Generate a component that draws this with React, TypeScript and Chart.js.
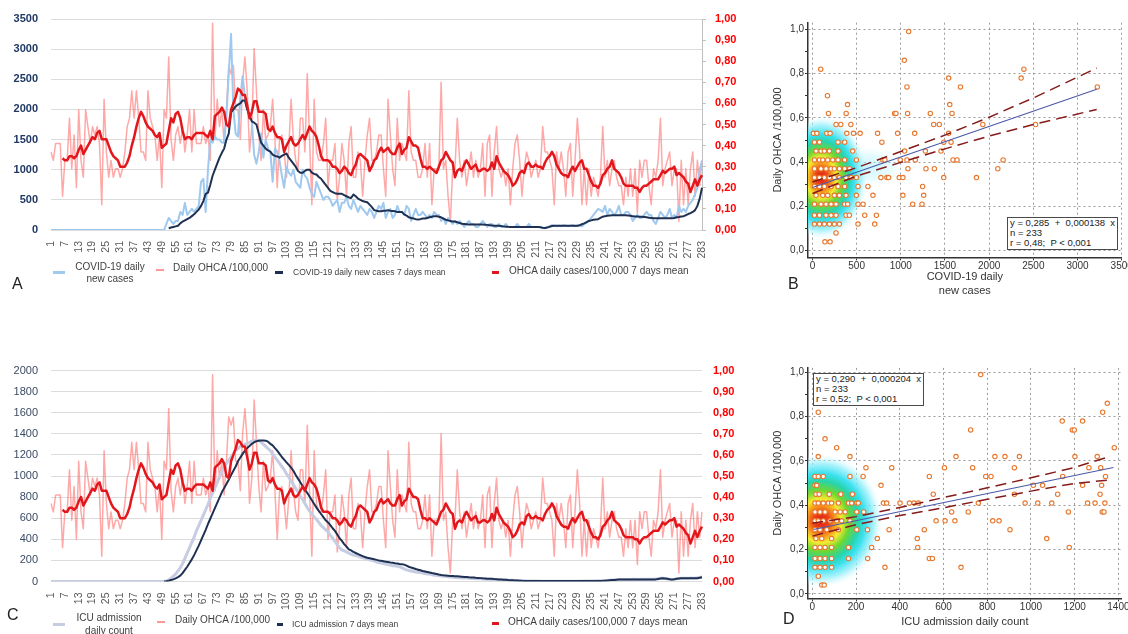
import React, { useEffect, useRef } from "react";
import { Chart, registerables } from "chart.js";

Chart.register(...registerables);

const FONT = '"Liberation Sans", Arial, Helvetica, sans-serif';
Chart.defaults.font.family = FONT;

// ---------- categories ----------
const DAYS: string[] = Array.from({ length: 283 }, (_, i) => String(i + 1));

// ---------- daily OHCA per 100,000 (days 1..283) ----------
const OHCA_DAILY = [
  .37,.33,.41,.41,.41,.16,.33,.33,.53,.29,
  .45,.20,.57,.33,.25,.57,.49,.41,.49,.45,
  .49,.41,.12,.62,.37,.25,.33,.25,.29,.29,
  .25,.29,.37,.49,.53,.66,.53,.66,.53,.37,
  .37,.33,.66,.53,.49,.45,.33,.45,.20,.57,
  .53,.82,.43,.33,.45,.49,.41,.49,.37,.45,
  .57,.37,.57,.41,.41,.41,.49,.41,.45,.33,
  .98,.43,.62,.49,.57,.41,.57,.78,.74,.78,
  .57,.57,.43,.70,.82,.66,.37,.49,.86,.66,
  .45,.33,.57,.43,.45,.49,.62,.43,.20,.43,
  .45,.37,.25,.39,.62,.43,.33,.29,.53,.53,
  .37,.74,.43,.12,.62,.37,.33,.33,.41,.53,
  .20,.33,.33,.41,.14,.25,.41,.33,.16,.41,
  .49,.25,.25,.37,.33,.16,.33,.45,.53,.33,
  .33,.37,.45,.45,.29,.16,.62,.45,.29,.21,
  .53,.33,.41,.37,.33,.66,.37,.33,.33,.25,
  .25,.29,.41,.25,.41,.12,.29,.29,.29,.70,
  .29,.33,.16,.04,.29,.29,.53,.33,.25,.33,
  .21,.29,.37,.25,.33,.25,.29,.41,.16,.41,
  .45,.16,.37,.49,.29,.25,.29,.21,.29,.12,
  .29,.41,.45,.33,.16,.29,.37,.33,.25,.29,
  .33,.25,.29,.49,.37,.37,.33,.29,.12,.37,
  .29,.37,.29,.16,.37,.41,.16,.33,.53,.37,
  .12,.29,.12,.29,.16,.25,.21,.16,.25,.49,
  .25,.33,.21,.29,.33,.25,.21,.21,.12,.25,
  .16,.29,.16,.29,.08,.33,.25,.33,.33,.21,
  .12,.29,.25,.33,.53,.21,.29,.33,.37,.21,
  .29,.29,.04,.33,.12,.29,.12,.29,.37,.16,
  .33,.21,.33,
];

// ---------- OHCA 7-day mean (days 1..283) ----------
const OHCA_MEAN = [
  null,null,null,null,null,.34,.33,.33,.35,.35,
  .34,.35,.38,.40,.36,.38,.40,.42,.44,.43,
  .46,.47,.43,.43,.43,.40,.37,.35,.34,.33,
  .30,.30,.30,.32,.35,.40,.44,.49,.53,.56,
  .54,.51,.49,.48,.47,.45,.44,.46,.39,.40,
  .41,.47,.53,.51,.55,.56,.53,.47,.43,.44,
  .44,.43,.45,.46,.46,.46,.46,.45,.44,.47,
  .43,.54,.55,.56,.58,.56,.50,.49,.57,.60,
  .63,.67,.66,.64,.64,.59,.53,.56,.61,.61,
  .56,.56,.56,.55,.48,.47,.49,.46,.44,.44,
  .43,.37,.40,.42,.44,.41,.40,.41,.43,.45,
  .43,.46,.49,.47,.46,.44,.40,.35,.33,.33,
  .33,.32,.30,.30,.29,.27,.28,.30,.29,.27,
  .26,.29,.31,.35,.36,.35,.34,.33,.28,.30,
  .33,.34,.37,.39,.37,.38,.39,.37,.36,.36,
  .39,.41,.36,.38,.39,.44,.42,.40,.40,.39,
  .34,.30,.30,.29,.30,.29,.28,.27,.30,.33,
  .34,.37,.35,.33,.32,.25,.28,.29,.28,.31,
  .33,.31,.29,.30,.31,.28,.28,.29,.29,.28,
  .29,.32,.29,.35,.32,.30,.28,.27,.26,.24,
  .21,.22,.24,.27,.28,.27,.31,.32,.30,.30,
  .31,.30,.30,.29,.32,.34,.35,.37,.35,.31,
  .29,.27,.26,.26,.25,.28,.30,.28,.30,.32,
  .33,.29,.29,.26,.23,.21,.21,.20,.22,.26,
  .27,.29,.30,.33,.29,.28,.27,.25,.22,.21,
  .21,.21,.21,.20,.20,.18,.20,.21,.21,.22,
  .23,.24,.24,.24,.26,.28,.27,.28,.29,.29,
  .30,.26,.27,.26,.25,.23,.22,.18,.21,.24,
  .21,.24,.26,
];

// ---------- COVID-19 daily new cases ----------
const COVID_DAILY = [
  0,0,0,0,0,0,0,0,0,0, 0,0,0,0,0,0,0,0,0,0,
  0,0,0,0,0,0,0,0,0,0, 0,0,0,0,0,0,0,0,0,0,
  0,0,0,0,0,0,0,0,0,0,
  100,200,150,100,150,150,300,250,450,250,
  300,350,300,350,400,800,850,300,1000,1500,
  1450,1550,1500,1500,1450,1450,1900,2600,3250,2000,
  1600,1550,2200,2550,2200,2000,1900,1800,1250,1100,
  1300,1600,1200,1500,1350,1300,800,1350,1300,1150,
  900,700,1050,950,900,1000,800,750,700,1000,
  900,850,700,600,550,800,700,600,500,550,
  550,500,400,450,500,300,450,450,550,400,
  350,500,400,300,400,350,300,250,350,300,
  200,300,400,350,450,200,300,350,200,250,
  400,300,300,250,400,350,150,250,350,250,
  250,300,250,200,250,200,300,250,250,150,
  200,100,200,150,100,150,100,150,100,50,
  100,150,100,100,50,50,100,150,100,50,
  100,100,50,50,100,50,50,100,50,50,
  50,50,100,50,50,50,50,100,50,50,
  50,50,50,30,30,50,60,80,70,60,
  70,60,80,70,60,70,80,60,70,70,
  60,100,120,150,200,250,300,350,330,300,
  400,250,350,300,250,300,400,250,250,300,
  300,250,150,200,250,200,200,250,300,250,
  250,150,100,200,300,250,200,250,350,200,
  250,200,400,300,350,300,400,450,500,600,
  700,1000,1150,
];

// ---------- COVID-19 daily new cases, 7-day mean ----------
const COVID_MEAN = [
  null,null,null,null,null,null,null,null,null,null,
  null,null,null,null,null,null,null,null,null,null,
  null,null,null,null,null,null,null,null,null,null,
  null,null,null,null,null,null,null,null,null,null,
  null,null,null,null,null,null,null,null,null,null,
  null,30,40,50,60,70,110,140,160,180,
  200,230,260,300,340,400,480,600,620,750,
  900,1000,1100,1200,1280,1350,1500,1600,1950,2000,
  2050,2080,2100,2150,2150,2000,1900,1800,1780,1750,
  1600,1450,1400,1350,1320,1300,1250,1230,1220,1200,
  1230,1250,1270,1200,1150,1100,1050,980,950,950,
  980,1000,1000,950,930,920,880,850,800,750,
  700,650,630,610,600,600,600,580,560,540,
  530,590,560,520,500,480,470,460,420,380,
  330,320,310,310,320,320,330,320,315,310,
  300,300,300,260,240,210,200,190,180,175,
  180,190,190,200,210,220,230,230,220,210,
  190,170,160,150,140,140,130,115,105,100,
  95,90,90,90,90,90,90,90,88,85,
  80,75,70,70,70,65,60,55,52,50,
  50,50,50,50,50,50,50,50,50,50,
  50,50,45,38,35,40,55,65,70,70,
  70,70,70,70,70,70,70,70,70,80,
  95,110,130,150,160,170,175,180,200,220,
  230,235,240,245,245,245,245,245,245,245,
  240,235,230,225,225,220,220,215,210,205,
  200,195,195,195,195,195,195,195,195,195,
  200,210,215,225,230,245,265,280,300,330,
  400,520,700,
];

// ---------- ICU admission daily count ----------
const ICU_DAILY = [
  0,0,0,0,0,0,0,0,0,0, 0,0,0,0,0,0,0,0,0,0,
  0,0,0,0,0,0,0,0,0,0, 0,0,0,0,0,0,0,0,0,0,
  0,0,0,0,0,0,0,0,0,0,
  5,15,30,50,70,100,130,170,220,270,
  320,370,420,480,530,580,630,680,730,790,
  840,890,940,990,1040,1080,1120,1150,1180,1210,
  1240,1260,1280,1290,1300,1310,1320,1330,1335,1340,
  1340,1320,1300,1280,1260,1240,1210,1180,1150,1120,
  1090,1060,1020,990,950,920,880,850,810,780,
  740,700,670,640,610,590,560,530,510,490,
  470,440,410,380,350,320,300,290,280,270,
  260,250,245,240,230,225,220,215,205,200,
  195,185,180,175,170,165,160,155,150,150,
  145,140,130,120,110,105,100,95,90,88,
  85,80,75,72,70,65,60,58,55,52,
  50,48,45,42,40,38,36,35,34,33,
  32,30,30,28,27,26,25,24,23,22,
  21,20,19,18,17,16,15,14,13,12,
  11,10,9,8,7,6,5,5,4,4,
  4,4,3,3,3,3,3,3,3,3,
  3,3,3,3,3,3,3,3,3,3,
  3,4,4,4,5,5,5,6,6,7,
  8,10,12,14,15,16,18,18,19,20,
  20,20,21,21,20,20,21,21,22,22,
  22,22,24,26,30,32,28,24,22,20,
  22,25,28,30,30,30,31,32,32,33,
  35,38,42,
];

// ---------- ICU admission 7-day mean ----------
const ICU_MEAN = [
  null,null,null,null,null,null,null,null,null,null,
  null,null,null,null,null,null,null,null,null,null,
  null,null,null,null,null,null,null,null,null,null,
  null,null,null,null,null,null,null,null,null,null,
  null,null,null,null,null,null,null,null,null,0,
  3,8,14,20,30,42,55,80,110,140,
  175,210,250,295,340,390,440,490,545,595,
  645,695,745,795,845,885,925,965,1010,1050,
  1090,1140,1175,1210,1240,1265,1285,1305,1320,1330,
  1335,1337,1337,1335,1325,1305,1290,1265,1240,1210,
  1180,1155,1130,1105,1080,1050,1010,975,940,905,
  870,840,805,770,735,700,670,640,610,580,
  560,535,505,480,445,410,385,355,330,305,
  295,280,270,260,250,240,232,225,220,215,
  210,205,200,196,192,188,184,180,177,173,
  170,166,163,160,150,140,132,125,118,112,
  106,100,95,90,85,80,76,71,66,62,
  59,57,55,53,52,50,49,47,45,43,
  42,40,39,37,35,34,32,30,29,27,
  26,25,23,22,20,19,17,16,14,13,
  12,10,9,8,6,5,4,4,4,4,
  4,4,4,4,4,4,4,4,4,4,
  4,4,4,4,4,4,4,4,4,4,
  4,4,4,4,4,4,4,5,5,6,
  8,10,12,14,15,17,18,19,20,20,
  20,20,20,20,20,20,20,20,20,20,
  20,20,20,24,28,30,28,25,22,20,
  22,25,28,30,30,30,30,30,30,30,
  30,35,40,
];

// ---------- tick labels ----------
const A_LEFT_TICKS = [0, 500, 1000, 1500, 2000, 2500, 3000, 3500];
const C_LEFT_TICKS = [0, 200, 400, 600, 800, 1000, 1200, 1400, 1600, 1800, 2000];
const RIGHT_TICKS = [0, 0.1, 0.2, 0.3, 0.4, 0.5, 0.6, 0.7, 0.8, 0.9, 1.0];
const B_XTICKS = [0, 500, 1000, 1500, 2000, 2500, 3000, 3500];
const D_XTICKS = [0, 200, 400, 600, 800, 1000, 1200, 1400];
const SC_YTICKS = [0, 0.1, 0.2, 0.3, 0.4, 0.5, 0.6, 0.7, 0.8, 0.9, 1.0];

// ---------- scatter B: COVID-19 daily new cases vs daily OHCA ----------
const B_POINTS: [number, number][] = [
  [11,.53],[50,.53],[163,.53],[200,.53],[389,.53],
  [23,.49],[80,.49],[290,.49],[365,.49],
  [41,.45],[97,.45],[135,.45],[192,.45],[290,.45],[456,.45],
  [23,.41],[80,.41],[117,.41],[173,.41],[230,.41],[290,.41],[365,.41],[497,.41],
  [23,.37],[97,.37],[154,.37],[211,.37],[248,.37],[305,.37],[365,.37],[422,.37],
  [23,.33],[80,.33],[135,.33],[192,.33],[248,.33],[305,.33],[380,.33],[437,.33],[497,.33],
  [23,.29],[80,.29],[135,.29],[211,.29],[290,.29],[365,.29],[516,.29],[628,.29],
  [41,.25],[117,.25],[173,.25],[248,.25],[305,.25],[380,.25],[497,.25],[685,.25],
  [23,.21],[97,.21],[154,.21],[211,.21],[267,.21],[365,.21],[399,.21],[516,.21],[573,.21],
  [23,.16],[80,.16],[154,.16],[211,.16],[267,.16],[380,.16],[418,.16],[592,.16],[724,.16],
  [23,.12],[80,.12],[135,.12],[192,.12],[248,.12],[305,.12],[516,.12],[705,.12],
  [267,.08],[142,.04],[200,.04],
  [94,.82],[170,.70],[181,.62],[397,.66],[382,.62],[268,.57],[321,.57],[435,.57],[465,.53],[540,.53],
  [737,.53],[786,.49],[775,.33],[797,.41],[820,.41],[843,.33],[862,.33],[930,.62],[945,.62],[964,.53],
  [983,.33],[1024,.33],[994,.41],[1043,.45],[1024,.25],[1040,.86],[1070,.74],[1077,.62],[1089,.99],[1081,.37],
  [1070,.41],[1134,.21],[1157,.53],[1164,.41],[1240,.21],[1247,.29],[1259,.25],[1278,.45],[1285,.37],[1334,.62],
  [1372,.57],[1380,.37],[1436,.57],[1455,.45],[1486,.33],[1486,.49],[1542,.78],[1554,.66],[1569,.49],[1580,.62],
  [1542,.53],[1591,.41],[1637,.41],[1675,.74],[1856,.33],[1928,.57],[2098,.37],[2158,.41],[2362,.78],[2393,.82],
  [2525,.57],[3224,.74],
];
const B_FIT_X = [0, 3217];
const B_FIT_Y = [0.285, 0.729];
const B_CI_X = [0, 500, 1000, 1500, 2000, 2500, 3217];
const B_CI_UP = [0.31, 0.375, 0.448, 0.522, 0.603, 0.69, 0.825];
const B_CI_LO = [0.258, 0.337, 0.399, 0.46, 0.518, 0.57, 0.638];

// ---------- scatter D: ICU admission daily count vs daily OHCA ----------
const D_POINTS: [number, number][] = [
  [12,.53],[27,.53],[50,.53],[172,.53],[232,.53],
  [12,.49],[20,.49],[314,.49],
  [16,.45],[31,.45],[77,.45],[130,.45],[183,.45],
  [12,.41],[27,.41],[50,.41],[73,.41],[88,.41],[119,.41],[165,.41],[180,.41],[203,.41],[210,.41],[325,.41],[340,.41],
  [12,.37],[35,.37],[58,.37],[104,.37],[127,.37],[150,.37],[203,.37],[235,.37],
  [12,.33],[27,.33],[50,.33],[81,.33],[111,.33],[134,.33],[172,.33],
  [12,.29],[35,.29],[66,.29],[119,.29],[203,.29],
  [16,.25],[43,.25],[88,.25],
  [12,.21],[35,.21],[58,.21],[88,.21],[165,.21],
  [12,.16],[35,.16],[58,.16],[88,.16],[165,.16],
  [12,.12],[35,.12],[58,.12],[88,.12],
  [27,.08],[43,.04],[54,.04],
  [27,.82],[58,.70],[111,.66],[27,.62],[172,.62],
  [245,.57],[363,.57],[401,.41],[444,.41],[465,.41],[485,.41],[553,.45],[535,.53],[604,.57],[637,.37],
  [607,.33],[652,.33],[566,.33],[657,.62],[512,.29],[480,.25],[482,.21],[535,.16],[549,.16],[252,.29],
  [297,.25],[271,.21],[253,.16],[332,.12],[351,.29],[680,.12],[713,.37],[724,.74],[733,.57],[759,.41],
  [770,.99],[793,.53],[817,.53],[825,.33],[854,.33],[835,.62],[881,.62],[924,.57],[924,.45],[904,.29],
  [947,.62],[973,.41],[1011,.49],[1031,.41],[1053,.49],[1072,.25],[1095,.41],[1122,.45],[1143,.78],[1145,.53],
  [1171,.37],[1175,.21],[1189,.74],[1198,.74],[1201,.62],[1236,.78],[1236,.49],[1265,.57],[1259,.41],[1293,.41],
  [1303,.62],[1316,.45],[1319,.57],[1323,.49],[1328,.82],[1326,.37],[1334,.37],[1338,.41],[1341,.53],[1349,.86],
  [1381,.66],
];
const D_FIT_X = [5, 1377];
const D_FIT_Y = [0.291, 0.571];
const D_CI_X = [0, 200, 400, 600, 800, 1000, 1200, 1350];
const D_CI_UP = [0.319, 0.349, 0.39, 0.435, 0.479, 0.524, 0.571, 0.617];
const D_CI_LO = [0.261, 0.313, 0.354, 0.389, 0.427, 0.464, 0.499, 0.513];

// ---------- styles ----------
const C_PINK = "rgba(255,110,110,0.6)";
const C_LBLUE = "#9fc9ef";
const C_NAVY = "#1f3152";
const C_RED = "#e3161b";
const C_ICU = "#c6cde2";
const C_ORANGE = "#e8772c";

const DENSITY_STOPS: [number, string][] = [
  [0, "rgb(222,24,24)"],
  [0.13, "rgb(235,70,25)"],
  [0.24, "rgb(245,160,30)"],
  [0.33, "rgb(245,235,50)"],
  [0.46, "rgb(110,215,50)"],
  [0.6, "rgb(40,212,170)"],
  [0.72, "rgb(60,225,240)"],
  [0.86, "rgba(140,238,250,0.75)"],
  [1, "rgba(210,250,255,0)"],
];
const TAIL_STOPS: [number, string][] = [
  [0, "rgba(150,238,250,0.55)"],
  [0.6, "rgba(180,244,252,0.35)"],
  [1, "rgba(220,250,255,0)"],
];

const densityPlugin = {
  id: "density",
  beforeDatasetsDraw(chart: any, _args: any, opts: any) {
    if (!opts || !opts.blobs) return;
    const { ctx, chartArea } = chart;
    const xs = chart.scales.x;
    const ys = chart.scales.y;
    ctx.save();
    ctx.beginPath();
    ctx.rect(chartArea.left, chartArea.top, chartArea.right - chartArea.left, chartArea.bottom - chartArea.top);
    ctx.clip();
    for (const b of opts.blobs) {
      const cx = xs.getPixelForValue(b.x);
      const cy = ys.getPixelForValue(b.y);
      const rx = Math.abs(xs.getPixelForValue(b.x + b.rx) - cx);
      const ry = Math.abs(ys.getPixelForValue(b.y + b.ry) - cy);
      ctx.save();
      ctx.translate(cx, cy);
      ctx.scale(rx / ry, 1);
      const g = ctx.createRadialGradient(0, 0, 0, 0, 0, ry);
      for (const [o, c] of b.stops) g.addColorStop(o, c);
      ctx.fillStyle = g;
      ctx.beginPath();
      ctx.arc(0, 0, ry, 0, Math.PI * 2);
      ctx.fill();
      ctx.restore();
    }
    ctx.restore();
  },
};

const fixWidth = (w: number) => (s: any) => {
  s.width = w;
  s.paddingTop = 0;
  s.paddingBottom = 0;
  s.paddingLeft = 0;
  s.paddingRight = 0;
};
const fixHeight = (h: number) => (s: any) => {
  s.height = h;
  s.paddingTop = 0;
  s.paddingBottom = 0;
  s.paddingLeft = 0;
  s.paddingRight = 0;
};
const setTicks = (vals: number[]) => (s: any) => {
  s.ticks = vals.map((v) => ({ value: v }));
};
const comma2 = (v: any) => Number(v).toFixed(2).replace(".", ",");
const comma1 = (v: number) => v.toFixed(1).replace(".", ",");

function makeLine(canvas: HTMLCanvasElement, p: any) {
  return new Chart(canvas, {
    type: "line",
    data: { labels: DAYS, datasets: p.datasets },
    options: {
      animation: false,
      responsive: false,
      maintainAspectRatio: false,
      layout: { padding: { top: p.top, left: 0, right: 0, bottom: 0 } },
      elements: { point: { radius: 0, hoverRadius: 0 }, line: { tension: 0, borderJoinStyle: "round" } },
      plugins: { legend: { display: false }, tooltip: { enabled: false } },
      scales: {
        x: {
          type: "category",
          offset: false,
          grid: { display: false },
          border: { display: false },
          ticks: {
            autoSkip: false,
            minRotation: 90,
            maxRotation: 90,
            padding: 3,
            color: "#595959",
            font: { size: 10.5 },
            callback: (_v: any, i: number) => (i % 6 === 0 ? DAYS[i] : ""),
          },
          afterFit: fixHeight(p.xHeight),
        },
        yL: {
          type: "linear",
          position: "left",
          min: 0,
          max: p.leftMax,
          afterBuildTicks: setTicks(p.leftTicks),
          ticks: {
            color: p.leftColor,
            font: { size: 11, weight: p.leftWeight },
            padding: 13,
            callback: (v: any) => String(v),
          },
          grid: { color: "#dcdcdc", drawTicks: false, lineWidth: 1 },
          border: { display: false },
          afterFit: fixWidth(51),
        },
        yR: {
          type: "linear",
          position: "right",
          min: 0,
          max: 1,
          afterBuildTicks: setTicks(RIGHT_TICKS),
          ticks: { color: "#ff0000", font: { size: 11, weight: "bold" }, padding: p.rightPad, callback: comma2 },
          grid: { drawOnChartArea: false, drawTicks: p.rightAxis, tickLength: 4, color: "#bfbfbf" },
          border: { display: p.rightAxis, color: "#bfbfbf", width: 1 },
          afterFit: fixWidth(58),
        },
      },
    } as any,
  });
}

function makeScatter(canvas: HTMLCanvasElement, p: any) {
  const pts = p.points.map(([x, y]: [number, number]) => ({ x, y }));
  const fit = p.fitX.map((x: number, i: number) => ({ x, y: p.fitY[i] }));
  const up = p.ciX.map((x: number, i: number) => ({ x, y: p.ciUp[i] }));
  const lo = p.ciX.map((x: number, i: number) => ({ x, y: p.ciLo[i] }));
  const lineDs = (data: any, color: string, width: number, dash: number[]) => ({
    data,
    showLine: true,
    borderColor: color,
    borderWidth: width,
    borderDash: dash,
    pointRadius: 0,
    pointHoverRadius: 0,
    order: 0,
  });
  return new Chart(canvas, {
    type: "scatter",
    data: {
      datasets: [
        lineDs(fit, "#4b5aa8", 1.1, []),
        lineDs(up, "#861b1b", 1.5, [11, 6]),
        lineDs(lo, "#861b1b", 1.5, [11, 6]),
        {
          data: pts,
          pointRadius: 2.2,
          pointBorderWidth: 1.1,
          pointBorderColor: C_ORANGE,
          pointBackgroundColor: "#ffffff",
          order: 1,
        },
      ],
    },
    plugins: [densityPlugin],
    options: {
      animation: false,
      responsive: false,
      maintainAspectRatio: false,
      layout: { padding: { top: p.top, right: 6.3, left: 0, bottom: 0 } },
      plugins: { legend: { display: false }, tooltip: { enabled: false }, density: { blobs: p.blobs } },
      scales: {
        x: {
          type: "linear",
          min: p.xMin,
          max: p.xMax,
          afterBuildTicks: setTicks(p.xTicks),
          ticks: { color: "#333", font: { size: 10 }, padding: 0, callback: (v: any) => String(v) },
          grid: { color: "#9a9a9a", tickColor: "#333", tickLength: 3, tickBorderDash: [], tickWidth: 1 },
          border: { color: "#333", width: 1.5, dash: [2, 3] },
          title: {
            display: true,
            text: p.xTitle,
            color: "#333",
            font: { size: 11, lineHeight: "14px" },
            padding: { top: 0, bottom: p.xTitlePad },
          },
          afterFit: fixHeight(p.xHeight),
        },
        y: {
          type: "linear",
          min: p.yMin,
          max: p.yMax,
          afterBuildTicks: setTicks(SC_YTICKS),
          ticks: {
            color: "#333",
            font: { size: 10 },
            padding: 1,
            callback: (v: any, i: number) => (i % 2 === 0 ? comma1(Number(v)) : ""),
          },
          grid: {
            color: (c: any) => (c.index % 2 === 0 ? "#9a9a9a" : "rgba(0,0,0,0)"),
            tickColor: "#333",
            tickLength: 3,
            tickBorderDash: [],
            tickWidth: 1,
          },
          border: { color: "#333", width: 1.5, dash: [2, 3] },
          title: {
            display: true,
            text: "Daily OHCA /100,000",
            color: "#333",
            font: { size: 11, lineHeight: "13px" },
            padding: { top: 11.5, bottom: 0 },
          },
          afterFit: fixWidth(48),
        },
      },
    } as any,
  });
}

const abs = (l: number, t: number, extra: React.CSSProperties = {}): React.CSSProperties => ({
  position: "absolute",
  left: l,
  top: t,
  ...extra,
});
const sw = (l: number, t: number, w: number, color: string, h = 2.5) => (
  <div style={abs(l, t, { width: w, height: h, background: color })} />
);
const txt = (l: number, t: number, size: number, s: React.ReactNode, extra: React.CSSProperties = {}) => (
  <div style={abs(l, t, { fontSize: size, lineHeight: "12px", color: "#404040", whiteSpace: "nowrap", ...extra })}>{s}</div>
);

export default function App() {
  const refA = useRef<HTMLCanvasElement>(null);
  const refB = useRef<HTMLCanvasElement>(null);
  const refC = useRef<HTMLCanvasElement>(null);
  const refD = useRef<HTMLCanvasElement>(null);

  useEffect(() => {
    const charts: Chart[] = [];
    charts.push(
      makeLine(refA.current!, {
        top: 19,
        xHeight: 70,
        leftMax: 3500,
        leftTicks: A_LEFT_TICKS,
        leftColor: "#1f3864",
        leftWeight: "bold",
        rightAxis: true,
        rightPad: 9,
        datasets: [
          { label: "Daily OHCA /100,000", data: OHCA_DAILY, yAxisID: "yR", borderColor: C_PINK, borderWidth: 1.5, order: 4 },
          { label: "COVID-19 daily new cases", data: COVID_DAILY, yAxisID: "yL", borderColor: C_LBLUE, borderWidth: 2, order: 3 },
          { label: "COVID-19 daily new cases 7 days mean", data: COVID_MEAN, yAxisID: "yL", borderColor: C_NAVY, borderWidth: 2, order: 2 },
          { label: "OHCA daily cases/100,000 7 days mean", data: OHCA_MEAN, yAxisID: "yR", borderColor: C_RED, borderWidth: 2.5, order: 1 },
        ],
      })
    );
    charts.push(
      makeLine(refC.current!, {
        top: 30.5,
        xHeight: 52.5,
        leftMax: 2000,
        leftTicks: C_LEFT_TICKS,
        leftColor: "#3b4a63",
        leftWeight: "normal",
        rightAxis: false,
        rightPad: 11,
        datasets: [
          { label: "Daily OHCA /100,000", data: OHCA_DAILY, yAxisID: "yR", borderColor: C_PINK, borderWidth: 1.5, order: 4 },
          { label: "ICU admission daily count", data: ICU_DAILY, yAxisID: "yL", borderColor: C_ICU, borderWidth: 3, order: 3 },
          { label: "ICU admission 7 days mean", data: ICU_MEAN, yAxisID: "yL", borderColor: C_NAVY, borderWidth: 2, order: 2 },
          { label: "OHCA daily cases/100,000 7 days mean", data: OHCA_MEAN, yAxisID: "yR", borderColor: C_RED, borderWidth: 2.5, order: 1 },
        ],
      })
    );
    charts.push(
      makeScatter(refB.current!, {
        points: B_POINTS,
        fitX: B_FIT_X,
        fitY: B_FIT_Y,
        ciX: B_CI_X,
        ciUp: B_CI_UP,
        ciLo: B_CI_LO,
        top: 22.7,
        xMin: -50,
        xMax: 3500,
        yMin: -0.03,
        yMax: 1.03,
        xTicks: B_XTICKS,
        xTitle: ["COVID-19 daily", "new cases"],
        xTitlePad: 2,
        xHeight: 42.7,
        blobs: [
          { x: 600, y: 0.38, rx: 450, ry: 0.09, stops: TAIL_STOPS },
          { x: 100, y: 0.33, rx: 520, ry: 0.275, stops: DENSITY_STOPS },
        ],
      })
    );
    charts.push(
      makeScatter(refD.current!, {
        points: D_POINTS,
        fitX: D_FIT_X,
        fitY: D_FIT_Y,
        ciX: D_CI_X,
        ciUp: D_CI_UP,
        ciLo: D_CI_LO,
        top: 27.9,
        xMin: -20,
        xMax: 1415,
        yMin: -0.02,
        yMax: 1.02,
        xTicks: D_XTICKS,
        xTitle: "ICU admission daily count",
        xTitlePad: 5.3,
        xHeight: 35.6,
        blobs: [{ x: 40, y: 0.33, rx: 280, ry: 0.3, stops: DENSITY_STOPS }],
      })
    );
    return () => charts.forEach((c) => c.destroy());
  }, []);

  const boxStyle = (l: number, t: number): React.CSSProperties =>
    abs(l, t, {
      width: 111,
      height: 33,
      boxSizing: "border-box",
      border: "1.5px solid #4a4a4a",
      background: "#fff",
      padding: "0 0 0 2px",
      fontSize: 9.5,
      lineHeight: "10px",
      color: "#222",
      whiteSpace: "pre",
    });
  const letter = (l: number, t: number, s: string) => (
    <div style={abs(l, t, { fontSize: 16, lineHeight: "16px", color: "#222" })}>{s}</div>
  );

  return (
    <div
      style={{
        position: "absolute",
        left: 0,
        top: 0,
        width: 1128,
        height: 634,
        overflow: "hidden",
        background: "#fff",
        fontFamily: FONT,
      }}
    >
      <canvas ref={refA} width={760} height={300} style={abs(0, 0, { width: 760, height: 300 })} />
      <canvas ref={refB} width={368} height={300} style={abs(760, 0, { width: 368, height: 300 })} />
      <canvas ref={refC} width={760} height={294} style={abs(0, 340, { width: 760, height: 294 })} />
      <canvas ref={refD} width={368} height={294} style={abs(760, 340, { width: 368, height: 294 })} />

      {/* Legend A */}
      {sw(53, 271, 12, C_LBLUE)}
      {txt(70, 261, 10, <>COVID-19 daily<br />new cases</>, { textAlign: "center", width: 80 })}
      {sw(156, 269, 8, "rgba(255,110,110,0.7)", 2)}
      {txt(173, 262, 10, "Daily OHCA /100,000")}
      {sw(275, 271, 8, C_NAVY)}
      {txt(293, 266, 8.5, "COVID-19 daily new cases 7 days mean")}
      {sw(492, 271, 7, C_RED)}
      {txt(509, 265, 10, "OHCA daily cases/100,000  7 days mean")}
      {letter(12, 275.5, "A")}

      {/* Legend C */}
      {sw(53, 623, 12, C_ICU)}
      {txt(69, 610.5, 10, <>ICU admission<br />daily count</>, { textAlign: "center", width: 80, lineHeight: "13px" })}
      {sw(157, 621, 8, "rgba(255,110,110,0.7)", 2)}
      {txt(175, 614, 10, "Daily OHCA /100,000")}
      {sw(277, 623, 6, C_NAVY)}
      {txt(292, 618, 8.5, "ICU admission 7 days mean")}
      {sw(492, 622, 7, C_RED)}
      {txt(508, 616, 10, "OHCA daily cases/100,000 7 days mean")}
      {letter(7, 606.5, "C")}

      {/* Panel B / D letters and stats boxes */}
      {letter(788, 275.5, "B")}
      {letter(783, 610.5, "D")}
      <div style={boxStyle(1007, 217)}>
        {"y = 0,285  +  0,000138  x\nn = 233\nr = 0,48;  P < 0,001"}
      </div>
      <div style={boxStyle(813, 373)}>
        {"y = 0,290  +  0,000204  x\nn = 233\nr = 0,52;  P < 0,001"}
      </div>
    </div>
  );
}
